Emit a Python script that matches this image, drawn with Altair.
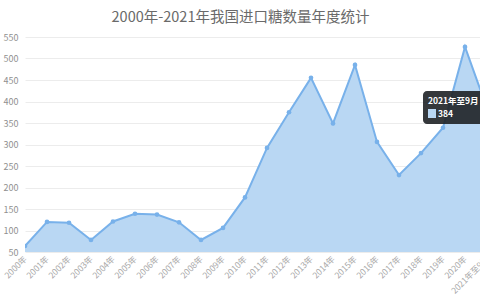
import altair as alt
import pandas as pd

years = ["2000年", "2001年", "2002年", "2003年", "2004年", "2005年", "2006年", "2007年",
         "2008年", "2009年", "2010年", "2011年", "2012年", "2013年", "2014年", "2015年",
         "2016年", "2017年", "2018年", "2019年", "2020年", "2021年至9月"]
imports = [64, 120, 118, 78, 121, 139, 137, 119, 78, 106, 177, 292, 375, 455, 349, 485,
           306, 229, 280, 339, 527, 384]
title_text = "2000年-2021年我国进口糖数量年度统计"
tip_title = ["2021年至9月"]
tip_value = ["384"]

LINE = "#78b1ea"
FILL = "#b9d7f3"
FONT = "Noto Sans CJK SC"

df = pd.DataFrame({"year": years, "value": imports, "base": [50] * len(years)})

x_enc = alt.X("year:N", sort=years,
              scale=alt.Scale(type="point", range=[0, 462], padding=0),
              axis=alt.Axis(title=None, labelAngle=315, labelAlign="right", labelBaseline="middle",
                            labelFontSize=8.5, labelColor="#a8a8a8", labelFont=FONT,
                            domain=False, ticks=False, labelPadding=5, labelOverlap=False,
                            grid=False))
y_enc = alt.Y("value:Q", scale=alt.Scale(domain=[50, 550], nice=False, zero=False),
              axis=alt.Axis(title=None, values=list(range(50, 551, 50)), labelFontSize=9,
                            labelColor="#909090", labelFont=FONT, domain=False, ticks=False,
                            labelPadding=7, gridColor="#ececec", gridWidth=1))

base = alt.Chart(df)
area = base.mark_area(color=FILL, opacity=1, clip=True).encode(x=x_enc, y=y_enc, y2="base:Q")
line = base.mark_line(color=LINE, strokeWidth=2, clip=True).encode(x=x_enc, y=y_enc)
pts = base.mark_circle(color=LINE, size=22, opacity=1, clip=True).encode(x=x_enc, y=y_enc)

tipdf = pd.DataFrame({"t": tip_title, "v": tip_value})
tip = alt.Chart(tipdf)
box = tip.mark_rect(fill="#1f2226", opacity=0.9, cornerRadius=4).encode(
    x=alt.value(398), x2=alt.value(470), y=alt.value(54), y2=alt.value(87))
t1 = tip.mark_text(color="white", fontSize=8.5, fontWeight="bold", font=FONT, align="left",
                   baseline="middle").encode(x=alt.value(403), y=alt.value(64), text="t:N")
sq = tip.mark_rect(fill=FILL).encode(
    x=alt.value(403), x2=alt.value(411), y=alt.value(72), y2=alt.value(81))
t2 = tip.mark_text(color="white", fontSize=8.5, fontWeight="bold", font=FONT, align="left",
                   baseline="middle").encode(x=alt.value(413), y=alt.value(77), text="v:N")

chart = alt.layer(area, line, pts, box, t1, sq, t2).properties(
    width=455, height=215,
    autosize=alt.AutoSizeParams(type="none"),
    padding={"left": 25, "top": 37, "right": 0, "bottom": 48},
    title=alt.TitleParams(title_text, fontSize=14.5, fontWeight="normal", color="#6a6a6a",
                          font=FONT, anchor="middle", frame="group", dx=-12, offset=8),
).configure_view(stroke=None)

chart.save("out.html", embed_options={"renderer": "svg", "actions": False})
